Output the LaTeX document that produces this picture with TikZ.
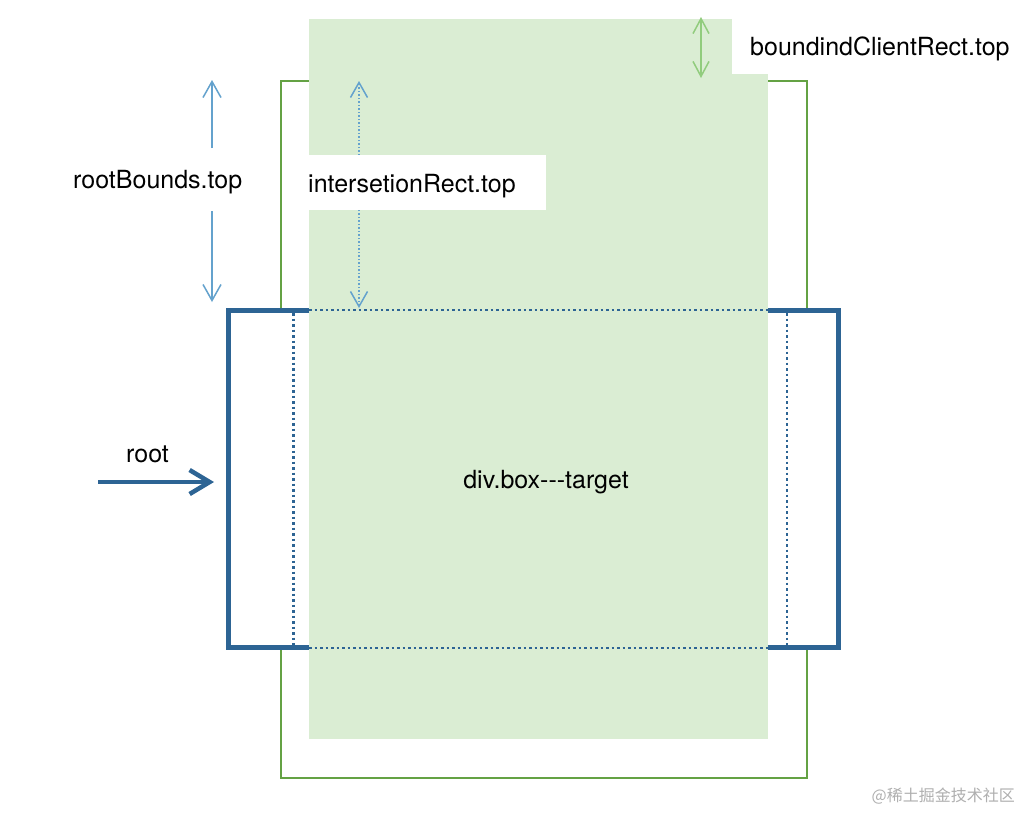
\documentclass[tikz,border=0pt]{standalone}
\usepackage{fontspec}
\setmainfont{TeX Gyre Heros}[Ligatures=NoCommon]
\newfontfamily\cjkfont{Noto Sans CJK SC}
\usetikzlibrary{arrows.meta}
\definecolor{dblue}{RGB}{45,100,148}
\definecolor{lblue}{RGB}{100,162,205}
\definecolor{gfillc}{RGB}{218,237,211}
\definecolor{glinec}{RGB}{100,162,68}
\definecolor{garrowc}{RGB}{145,204,125}
\definecolor{wmark}{RGB}{175,175,175}
\begin{document}
\begin{tikzpicture}[x=1pt,y=-1pt,font=\fontsize{25}{30}\selectfont,
  lbl/.style={inner sep=0pt,anchor=base west},
  gline/.style={draw=glinec,line width=2pt},
  bline/.style={draw=dblue,line width=5pt,fill=white},
  gfill/.style={fill=gfillc},
  dotline/.style={draw=dblue,line width=2.5pt,dash pattern=on 2.5pt off 3pt},
  thinarrow/.style={draw=lblue,line width=1.5pt,-{Straight Barb[length=16pt,width=18pt]}},
  dotarrow/.style={draw=lblue,line width=1.5pt,dash pattern=on 1.5pt off 2pt,{Straight Barb[length=15pt,width=17pt]}-{Straight Barb[length=15pt,width=17pt]}},
  greenarrow/.style={draw=garrowc,line width=1.5pt,{Straight Barb[length=15pt,width=16pt]}-{Straight Barb[length=15pt,width=16pt]}},
  rootarrow/.style={draw=dblue,line width=4.5pt,-{Straight Barb[length=20pt,width=24pt]}}]
\useasboundingbox (0,0) rectangle (1031,812);
\fill[white] (0,0) rectangle (1031,812);
% green outline (boundingClientRect frame)
\draw[gline] (281,81) rectangle (807,778);
% root rectangle
\draw[bline] (228,310) rectangle (838,647.5);
% target fill
\fill[gfill] (309,19) rectangle (768,739);
% intersection dotted lines
\draw[dotline] (309,310) -- (768,310);
\draw[dotline] (309,648) -- (768,648);
\draw[dotline] (293.5,313) -- (293.5,645);
\draw[dotline] (787,313) -- (787,645);
% white label box top right
\fill[white] (732,0) rectangle (1031,74);
% coordinates
\coordinate (rbTop) at (212,80);
\coordinate (rbA) at (212,148);
\coordinate (rbB) at (212,211);
\coordinate (rbBot) at (212,302);
\coordinate (irTop) at (359,81);
\coordinate (irBot) at (359,308);
\coordinate (bcTop) at (701,17);
\coordinate (bcBot) at (701,78);
\coordinate (rootStart) at (98,482);
\coordinate (rootEnd) at (214,482);
% arrows
\draw[thinarrow] (rbA) -- (rbTop);
\draw[thinarrow] (rbB) -- (rbBot);
\draw[dotarrow] (irBot) -- (irTop);
\draw[greenarrow] (bcTop) -- (bcBot);
\draw[rootarrow] (rootStart) -- (rootEnd);
% label boxes and labels
\fill[white] (308,155) rectangle (546,210);
\node[lbl] (rbLabel) at (73,188) {rootBounds.top};
\node[lbl] (irLabel) at (308,192) {intersetionRect.top};
\node[lbl] (bcLabel) at (750,55) {boundindClientRect.top};
\node[lbl] (rootLabel) at (126,462) {root};
\node[lbl,anchor=base] (target) at (546,488) {div.box{-}{-}{-}target};
\node[lbl,anchor=base east,text=wmark,font=\cjkfont\fontsize{16}{20}\selectfont] (wm) at (1015,801) {@稀土掘金技术社区};
\end{tikzpicture}
\end{document}
